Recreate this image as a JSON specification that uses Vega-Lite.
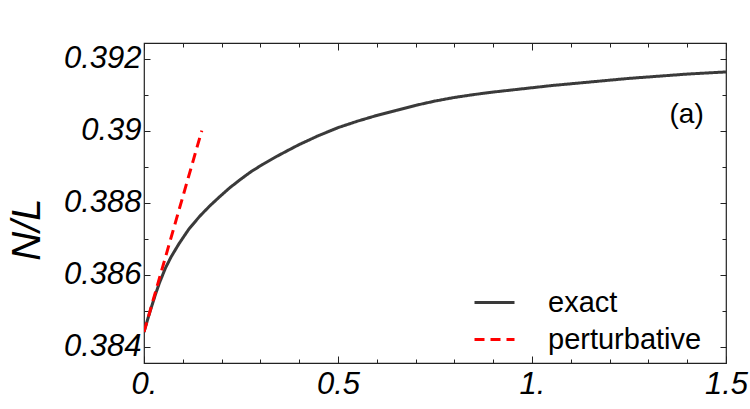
{
  "$schema": "https://vega.github.io/schema/vega-lite/v6.json",
  "width": 582,
  "height": 320,
  "autosize": "none",
  "padding": {"left": 144, "top": 43, "right": 24, "bottom": 46},
  "background": "white",
  "config": {
    "view": {"stroke": "#222", "strokeWidth": 1.2},
    "font": "Liberation Sans",
    "axis": {"grid": false, "domain": false, "tickColor": "#222", "tickWidth": 1}
  },
  "datasets": {
    "curves": [
      {"x": 0, "y": 0.38441, "series": "exact"},
      {"x": 0.01, "y": 0.38478, "series": "exact"},
      {"x": 0.02, "y": 0.38513, "series": "exact"},
      {"x": 0.03, "y": 0.38547, "series": "exact"},
      {"x": 0.04, "y": 0.38578, "series": "exact"},
      {"x": 0.055, "y": 0.38618, "series": "exact"},
      {"x": 0.07, "y": 0.38650, "series": "exact"},
      {"x": 0.09, "y": 0.38686, "series": "exact"},
      {"x": 0.115, "y": 0.38726, "series": "exact"},
      {"x": 0.143, "y": 0.38762, "series": "exact"},
      {"x": 0.17, "y": 0.38792, "series": "exact"},
      {"x": 0.195, "y": 0.38817, "series": "exact"},
      {"x": 0.22, "y": 0.38841, "series": "exact"},
      {"x": 0.246, "y": 0.38863, "series": "exact"},
      {"x": 0.275, "y": 0.38886, "series": "exact"},
      {"x": 0.306, "y": 0.38907, "series": "exact"},
      {"x": 0.34, "y": 0.38928, "series": "exact"},
      {"x": 0.375, "y": 0.38948, "series": "exact"},
      {"x": 0.4, "y": 0.38962, "series": "exact"},
      {"x": 0.45, "y": 0.38987, "series": "exact"},
      {"x": 0.5, "y": 0.39009, "series": "exact"},
      {"x": 0.55, "y": 0.39027, "series": "exact"},
      {"x": 0.6, "y": 0.39043, "series": "exact"},
      {"x": 0.65, "y": 0.39057, "series": "exact"},
      {"x": 0.7, "y": 0.39071, "series": "exact"},
      {"x": 0.75, "y": 0.39083, "series": "exact"},
      {"x": 0.8, "y": 0.39093, "series": "exact"},
      {"x": 0.85, "y": 0.39101, "series": "exact"},
      {"x": 0.9, "y": 0.39108, "series": "exact"},
      {"x": 0.95, "y": 0.39114, "series": "exact"},
      {"x": 1.0, "y": 0.3912, "series": "exact"},
      {"x": 1.05, "y": 0.39126, "series": "exact"},
      {"x": 1.1, "y": 0.39131, "series": "exact"},
      {"x": 1.15, "y": 0.39136, "series": "exact"},
      {"x": 1.2, "y": 0.39141, "series": "exact"},
      {"x": 1.25, "y": 0.39146, "series": "exact"},
      {"x": 1.3, "y": 0.3915, "series": "exact"},
      {"x": 1.35, "y": 0.39154, "series": "exact"},
      {"x": 1.4, "y": 0.39158, "series": "exact"},
      {"x": 1.45, "y": 0.39161, "series": "exact"},
      {"x": 1.5, "y": 0.39164, "series": "exact"},
      {"x": 0, "y": 0.38441, "series": "perturbative"},
      {"x": 0.149, "y": 0.39001, "series": "perturbative"}
    ],
    "xmajor": [{"x": 0}, {"x": 0.5}, {"x": 1}, {"x": 1.5}],
    "labels": [{"x": 1.3985, "y": 0.39045, "label": "(a)"}]
  },
  "layer": [
    {
      "data": {"name": "curves"},
      "mark": {"type": "line", "strokeWidth": 3, "clip": true},
      "encoding": {
        "x": {
          "field": "x", "type": "quantitative",
          "scale": {"domain": [0, 1.5], "nice": false, "zero": false},
          "axis": {
            "orient": "bottom", "title": null,
            "values": [0, 0.1, 0.2, 0.3, 0.4, 0.5, 0.6, 0.7, 0.8, 0.9, 1, 1.1, 1.2, 1.3, 1.4, 1.5],
            "tickSize": -4, "labelFontSize": 31, "labelFontStyle": "italic", "labelColor": "#000",
            "labelPadding": 10, "labelFlush": false, "labelOverlap": false,
            "labelExpr": "datum.value == 0 ? '0.' : datum.value == 0.5 ? '0.5' : datum.value == 1 ? '1.' : datum.value == 1.5 ? '1.5' : ''"
          }
        },
        "y": {
          "field": "y", "type": "quantitative",
          "scale": {"domain": [0.383547, 0.392444], "nice": false, "zero": false},
          "axis": {
            "orient": "left", "title": "N/L", "titleFontSize": 40, "titleFontStyle": "italic",
            "titleFontWeight": "normal", "titleColor": "#000", "titleX": -117, "titleY": 186,
            "titleBaseline": "middle", "titleAlign": "center", "titleAngle": -90,
            "values": [0.384, 0.385, 0.386, 0.387, 0.388, 0.389, 0.39, 0.391, 0.392],
            "tickSize": -4, "labelFontSize": 31, "labelFontStyle": "italic", "labelColor": "#000",
            "labelPadding": 7, "labelFlush": false, "labelOverlap": false,
            "labelExpr": "datum.value == 0.384 ? '0.384' : datum.value == 0.386 ? '0.386' : datum.value == 0.388 ? '0.388' : datum.value == 0.39 ? '0.39' : datum.value == 0.392 ? '0.392' : ''"
          }
        },
        "color": {
          "field": "series", "type": "nominal",
          "scale": {"domain": ["exact", "perturbative"], "range": ["#3a3a3a", "#ff0000"]},
          "legend": {
            "orient": "none", "legendX": 329, "legendY": 238, "title": null,
            "labelFontSize": 29, "labelColor": "#000", "symbolType": "stroke",
            "symbolSize": 1600, "symbolStrokeWidth": 3, "rowPadding": -4, "labelOffset": 32,
            "symbolOffset": 0
          }
        },
        "strokeDash": {
          "field": "series", "type": "nominal",
          "scale": {"domain": ["exact", "perturbative"], "range": [[1, 0], [10, 6]]},
          "legend": {
            "orient": "none", "legendX": 329, "legendY": 238, "title": null,
            "labelFontSize": 29, "labelColor": "#000", "symbolType": "stroke",
            "symbolSize": 1600, "symbolStrokeWidth": 3, "rowPadding": -4, "labelOffset": 32,
            "symbolOffset": 0
          }
        }
      }
    },
    {
      "data": {"name": "labels"},
      "mark": {"type": "text", "fontSize": 28, "color": "#000", "align": "center", "baseline": "middle"},
      "encoding": {
        "x": {"field": "x", "type": "quantitative", "axis": {"orient": "top", "title": null, "labels": false, "values": [0, 0.1, 0.2, 0.3, 0.4, 0.5, 0.6, 0.7, 0.8, 0.9, 1, 1.1, 1.2, 1.3, 1.4, 1.5], "tickSize": -4}},
        "y": {"field": "y", "type": "quantitative", "axis": {"orient": "right", "title": null, "labels": false, "values": [0.384, 0.385, 0.386, 0.387, 0.388, 0.389, 0.39, 0.391, 0.392], "tickSize": -4}},
        "text": {"field": "label"}
      }
    },
    {
      "data": {"name": "xmajor"},
      "mark": {"type": "point", "opacity": 0},
      "encoding": {
        "x": {"field": "x", "type": "quantitative", "axis": {"orient": "bottom", "title": null, "labels": false, "values": [0, 0.5, 1, 1.5], "tickSize": -7}},
        "y": {"datum": 0.388, "type": "quantitative", "axis": {"orient": "left", "title": null, "labels": false, "values": [0.384, 0.386, 0.388, 0.39, 0.392], "tickSize": -6}}
      }
    },
    {
      "data": {"name": "xmajor"},
      "mark": {"type": "point", "opacity": 0},
      "encoding": {
        "x": {"field": "x", "type": "quantitative", "axis": {"orient": "top", "title": null, "labels": false, "values": [0, 0.5, 1, 1.5], "tickSize": -7}},
        "y": {"datum": 0.388, "type": "quantitative", "axis": {"orient": "right", "title": null, "labels": false, "values": [0.384, 0.386, 0.388, 0.39, 0.392], "tickSize": -6}}
      }
    }
  ],
  "resolve": {"axis": {"x": "independent", "y": "independent"}}
}
